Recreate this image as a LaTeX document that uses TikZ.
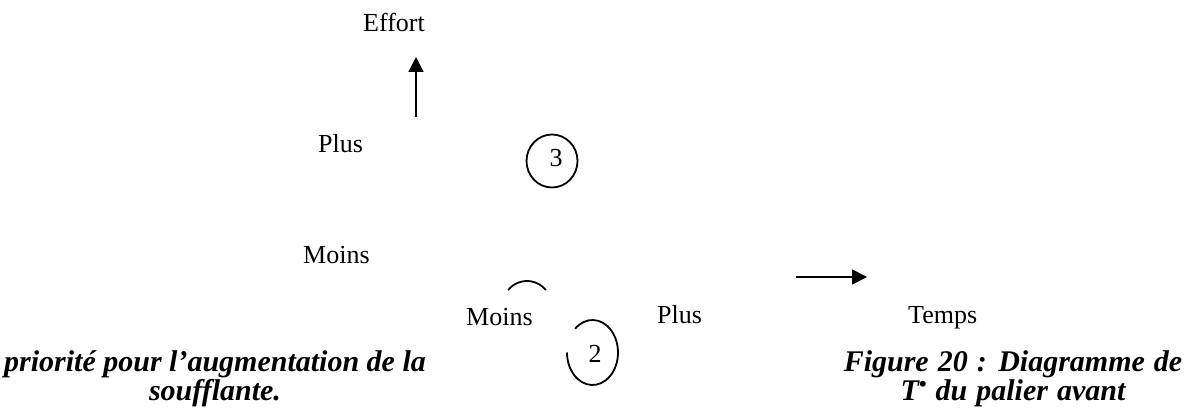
\documentclass[tikz,border=0pt]{standalone}
\usepackage{fontspec}
\setmainfont{Liberation Serif}
\usetikzlibrary{arrows.meta,shapes.geometric}
\begin{document}
\begin{tikzpicture}[x=1pt,y=-1pt,
  lbl/.style={inner sep=0pt, anchor=base west, font=\fontsize{26}{30}\selectfont},
  num/.style={inner sep=0pt, font=\fontsize{26}{30}\selectfont},
  captext/.style={inner sep=0pt, anchor=base, align=center, font=\fontsize{30}{27}\selectfont\bfseries\itshape},
  axis/.style={line width=1.8pt, -{Triangle[length=15pt,width=15pt]}},
  ring/.style={line width=1.8pt}]
\useasboundingbox (0,0) rectangle (1187,412);
\fill[white] (0,0) rectangle (1187,412);
% axes
\node[lbl] (effort) at (363,32) {Effort};
\coordinate (ybot) at (416,117);
\coordinate (ytop) at (416,57);
\draw[axis] (ybot) -- (ytop);
\coordinate (xl) at (796,277);
\coordinate (xr) at (867,277);
\draw[axis] (xl) -- (xr);
% labels
\node[lbl] (plusA) at (318,152) {Plus};
\node[lbl] (moinsA) at (303,263) {Moins};
\node[lbl] (moinsB) at (466,325) {Moins};
\node[lbl] (plusB) at (657,323) {Plus};
\node[lbl] (temps) at (908,323) {Temps};
% circle 3
\node[draw, ring, ellipse, minimum width=51pt, minimum height=53pt, inner sep=0pt] (c3) at (552,161) {};
\node[num] (n3) at (556,158) {3};
% partial arc
\coordinate (c1) at (527,307);
\draw[ring] (c1) ++(220.8:25 and 26) arc[start angle=220.8, end angle=319.2, x radius=25, y radius=26];
% circle 2 (open)
\coordinate (c2) at (592.5,352.5);
\draw[ring] (c2) ++(227:25.5 and 32.5) arc[start angle=227, end angle=540, x radius=25.5, y radius=32.5];
\node[num] (n2) at (595,354) {2};
% captions
\node[captext] (capA) at (215,400) {priorité pour l’augmentation de la\\soufflante.};
\node[captext] (capB) at (1013,400) {\spaceskip=9pt Figure 20 : Diagramme de\\\spaceskip=9pt T\smash{\raisebox{0.28em}{\fontsize{22}{22}\selectfont •}} du palier avant};
\end{tikzpicture}
\end{document}
